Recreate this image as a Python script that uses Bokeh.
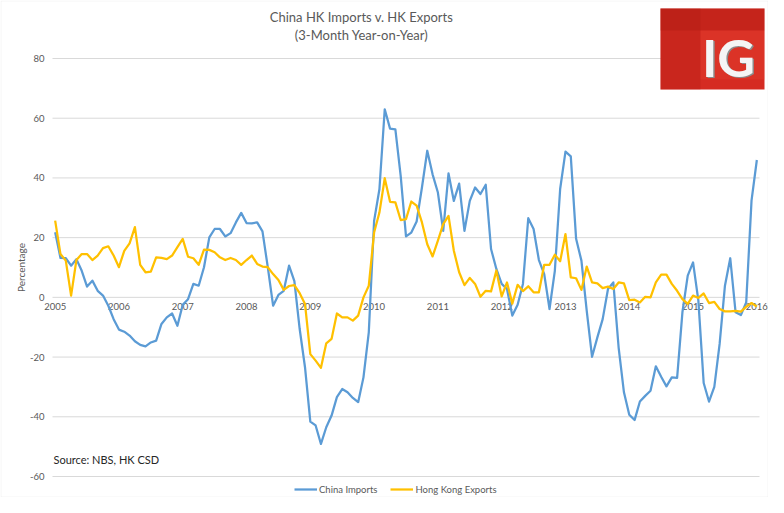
import numpy as np
from bokeh.plotting import figure
from bokeh.models import Range1d, Label, BoxAnnotation, Legend, LegendItem
from bokeh.core.properties import value
from bokeh.embed import file_html
from bokeh.resources import INLINE

# ---------------- data ----------------
years = list(range(2005, 2017))
y_ticks = [-60, -40, -20, 0, 20, 40, 60, 80]
title_lines = ["China HK Imports v. HK Exports", "(3-Month Year-on-Year)"]
series_names = ["China Imports", "Hong Kong Exports"]
source_note = "Source: NBS, HK CSD"
y_title = "Percentage"

china_imports = [
    21.8, 13.2, 13.1, 10.6, 12.8, 8.9, 3.6, 5.6, 2.2, 0.6, -2.8, -7.3,
    -10.8, -11.5, -12.8, -14.7, -15.9, -16.4, -15.1, -14.5, -8.9, -6.7, -5.4, -9.5,
    -2.5, -0.6, 4.5, 3.9, 10.1, 20.1, 22.9, 22.9, 20.4, 21.5, 25.1, 28.3,
    24.9, 24.8, 25.1, 22.1, 10.1, -2.8, 0.8, 2.2, 10.6, 5.4, -10.6, -23.4,
    -41.6, -42.9, -49.1, -43.5, -39.6, -33.4, -30.7, -31.8, -33.7, -35.1, -26.8, -11.7,
    25.6, 36.2, 63.0, 56.5, 56.3, 40.7, 20.4, 21.7, 25.4, 36.8, 49.1, 41.2,
    35.1, 22.3, 41.5, 32.3, 38.1, 22.3, 32.3, 36.8, 34.6, 37.7, 16.2, 9.5,
    4.5, 2.8, -6.1, -2.5, 4.5, 26.5, 22.9, 12.5, 7.8, -3.9, 8.9, 36.3,
    48.8, 47.2, 19.6, 12.3, -4.5, -19.9, -13.4, -7.3, 2.8, 5.0, -16.8, -31.8,
    -39.3, -41.1, -34.9, -33.0, -31.3, -23.1, -26.6, -29.8, -26.8, -27.0, -5.0, 7.3,
    11.7, -1.1, -28.7, -34.9, -30.0, -15.6, 3.9, 13.1, -5.0, -5.9, -1.7, 32.4,
    46.0,
]
hk_exports = [
    25.7, 14.5, 12.3, 0.6, 12.5, 14.5, 14.5, 12.5, 14.0, 16.5, 17.1, 14.0,
    10.1, 15.6, 18.1, 23.5, 10.9, 8.4, 8.6, 13.4, 13.2, 12.8, 14.0, 16.8,
    19.6, 13.6, 13.1, 10.9, 16.0, 15.9, 15.1, 13.4, 12.5, 13.2, 12.5, 10.9,
    12.5, 14.0, 11.2, 10.3, 10.1, 7.8, 5.8, 2.5, 3.8, 4.1, 1.4, -2.2,
    -19.0, -21.2, -23.6, -15.4, -13.9, -5.4, -6.7, -6.7, -7.8, -6.1, 0.0, 3.9,
    21.7, 28.4, 39.9, 32.0, 31.8, 25.9, 26.2, 32.1, 30.7, 25.1, 17.8, 13.7,
    19.0, 24.5, 27.3, 15.6, 8.4, 4.1, 6.5, 4.5, 0.2, 2.2, 2.0, 9.0,
    0.3, 5.0, -2.1, 4.2, 2.1, 3.7, 1.7, 1.7, 10.9, 10.9, 14.3, 12.1,
    21.2, 6.7, 6.4, 2.5, 10.3, 5.0, 4.7, 3.1, 3.6, 2.8, 5.0, 4.7,
    -0.9, -0.8, -1.7, 0.2, 0.0, 5.0, 7.6, 7.6, 4.5, 2.2, -0.6, -2.2,
    0.6, -0.2, 1.3, -1.9, -1.5, -3.9, -4.7, -4.7, -4.5, -4.8, -3.1, -1.9,
    -3.1,
]

# monthly positions (fractional years), Jan 2005 .. Jan 2016
x = years[0] + np.arange(len(china_imports)) / 12.0

FONT = "Lato"
GREY = "#595959"
BLUE = "#5B9BD5"
GOLD = "#FFC000"
GRID = "#d9d9d9"

# canvas and plot-area geometry (pixels)
W, H = 768, 497
PL, PR, PT, PB = 52, 759, 58, 476

# data extents of the plot area
xa, xb = years[0] - 0.5 / 12, years[-1] + 0.5 / 12
ya, yb = y_ticks[0], y_ticks[-1]
sx = (PR - PL) / (xb - xa)
sy = (PB - PT) / (yb - ya)

p = figure(width=W, height=H, output_backend="svg", toolbar_location=None,
           x_axis_location=None, y_axis_location=None,
           x_range=Range1d(xa - PL / sx, xb + (W - PR) / sx),
           y_range=Range1d(ya - (H - PB) / sy, yb + PT / sy),
           min_border=0, min_border_left=0, min_border_right=0,
           min_border_top=0, min_border_bottom=0)
p.background_fill_color = "white"
p.border_fill_color = "white"
p.outline_line_color = None
p.grid.visible = False

# horizontal gridlines (0 line doubles as the category axis)
nt = len(y_ticks)
p.segment(x0=[xa] * nt, y0=y_ticks, x1=[xb] * nt, y1=y_ticks,
          line_color=GRID, line_width=1)

# y tick labels
p.text(x=[xa] * nt, y=y_ticks, text=[str(t) for t in y_ticks],
       x_offset=-8, text_align="right", text_baseline="middle",
       text_font=value(FONT), text_font_size="9.5px", text_color=GREY)

# x (year) labels just below the zero line
p.text(x=years, y=[0] * len(years), text=[str(yr) for yr in years],
       y_offset=6, text_align="center", text_baseline="top",
       text_font=value(FONT), text_font_size="9.5px", text_color=GREY)

r1 = p.line(x, china_imports, line_color=BLUE, line_width=2.25, line_join="round")
r2 = p.line(x, hk_exports, line_color=GOLD, line_width=2.25, line_join="round")

# y axis title
p.add_layout(Label(x=20, y=H - 267, x_units="screen", y_units="screen", text=y_title,
                   angle=np.pi / 2, text_align="center", text_baseline="middle",
                   text_font=FONT, text_font_size="10px", text_color=GREY))

# chart title
p.add_layout(Label(x=361, y=H - 16, x_units="screen", y_units="screen", text=title_lines[0],
                   text_align="center", text_baseline="middle", text_font=FONT,
                   text_font_size="13px", text_color=GREY))
p.add_layout(Label(x=361, y=H - 34, x_units="screen", y_units="screen", text=title_lines[1],
                   text_align="center", text_baseline="middle", text_font=FONT,
                   text_font_size="13px", text_color=GREY))

# source note
p.add_layout(Label(x=53, y=H - 459, x_units="screen", y_units="screen", text=source_note,
                   text_align="left", text_baseline="middle", text_font=FONT,
                   text_font_size="11px", text_color="#262626"))

# legend
legend = Legend(items=[LegendItem(label=series_names[0], renderers=[r1]),
                       LegendItem(label=series_names[1], renderers=[r2])],
                orientation="horizontal", location=(294, 2),
                border_line_color=None, background_fill_alpha=0,
                padding=0, margin=0, spacing=13, glyph_width=23, glyph_height=12,
                label_standoff=2, label_height=12,
                label_text_font=FONT, label_text_font_size="9.5px", label_text_color=GREY)
p.add_layout(legend)

# IG logo (top right)
LL, LR, LT, LB = 660, 764, H - 8, H - 89
def box(l, r, b, t, color, alpha):
    return BoxAnnotation(left=l, right=r, bottom=b, top=t,
                         left_units="screen", right_units="screen",
                         bottom_units="screen", top_units="screen",
                         fill_color=color, fill_alpha=alpha, line_color=None)
p.add_layout(box(LL, LR, LB, LT, "#d52b22", 1.0))
p.add_layout(box(LL, LR, LT - 22, LT, "#a8170f", 0.35))
p.add_layout(box(LL, LL + 40, LB, LT, "#a8170f", 0.25))
p.add_layout(box(LL + 40, LR, LB + 10, LT - 22, "#f04a36", 0.25))
p.add_layout(Label(x=729.5, y=H - 57.5, x_units="screen", y_units="screen", text="IG",
                   text_align="center", text_baseline="middle", text_font=FONT,
                   text_font_style="bold", text_font_size="52px", text_color="#8c8c8c"))
p.add_layout(Label(x=728, y=H - 56, x_units="screen", y_units="screen", text="IG",
                   text_align="center", text_baseline="middle", text_font=FONT,
                   text_font_style="bold", text_font_size="52px", text_color="#f5f5f5"))

# chart border
p.add_layout(BoxAnnotation(left=0.5, right=W - 0.5, bottom=0.5, top=H - 0.5,
                           left_units="screen", right_units="screen",
                           bottom_units="screen", top_units="screen",
                           fill_alpha=0, line_color=GRID, line_width=1))

open("out.html", "w").write(file_html(p, INLINE))
